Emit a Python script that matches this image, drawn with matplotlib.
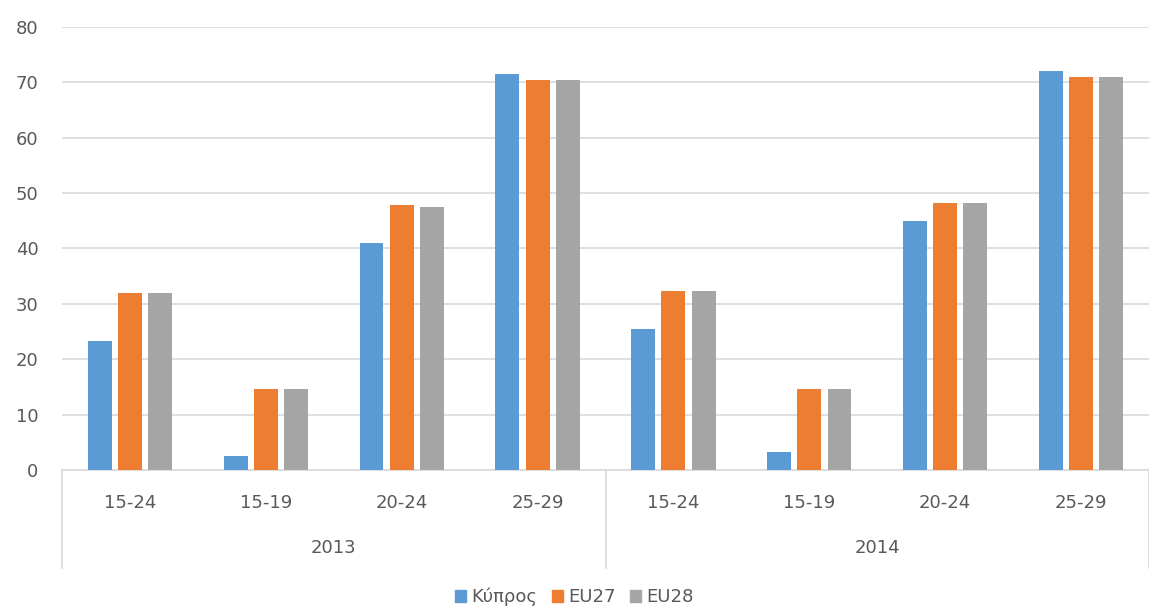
import numpy as np
import matplotlib.pyplot as plt
from matplotlib.patches import Patch

# Data
age_groups = ["15-24", "15-19", "20-24", "25-29"]
years = ["2013", "2014"]
series_names = ["Κύπρος", "EU27", "EU28"]
kypros = [23.2, 2.6, 41.0, 71.4, 25.4, 3.3, 44.9, 72.0]
eu27 = [31.9, 14.6, 47.9, 70.4, 32.3, 14.6, 48.2, 70.9]
eu28 = [31.9, 14.6, 47.5, 70.4, 32.3, 14.6, 48.2, 70.9]
colors = ["#5B9BD5", "#ED7D31", "#A5A5A5"]

text_col = "#595959"
grid_col = "#D9D9D9"
fs = 13

fig = plt.figure(figsize=(11.49, 6.08), dpi=100)
ax = fig.add_axes([62 / 1149, 1 - 470 / 608, 1 - 62 / 1149, (470 - 26.7) / 608])

x = np.arange(len(kypros))
width = 0.176
step = 0.222
for i, (vals, c) in enumerate(zip([kypros, eu27, eu28], colors)):
    ax.bar(x + (i - 1) * step, vals, width, color=c, zorder=3)

ax.set_xlim(-0.5, len(kypros) - 0.5)
ax.set_ylim(0, 80)
ax.set_yticks(range(0, 81, 10))
ax.yaxis.grid(True, color=grid_col, linewidth=1.2, zorder=0)
ax.tick_params(axis="y", length=0, labelsize=fs, labelcolor=text_col, pad=17)
ax.set_xticks([])
for s in ["top", "right", "left"]:
    ax.spines[s].set_visible(False)
ax.spines["bottom"].set_color(grid_col)
ax.spines["bottom"].set_linewidth(1.2)

# multi-level category axis
trans = ax.get_xaxis_transform()
labels = age_groups * len(years)
for xi, lab in zip(x, labels):
    ax.text(xi, -0.075, lab, transform=trans, ha="center", va="center",
            fontsize=fs, color=text_col)
for j, yr in enumerate(years):
    ax.text(j * 4 + 1.5, -0.177, yr, transform=trans, ha="center", va="center",
            fontsize=fs, color=text_col)
for sep in [-0.5, 3.5, 7.5]:
    ax.plot([sep, sep], [0, -0.222], transform=trans, color=grid_col,
            linewidth=1.2, clip_on=False)

handles = [Patch(color=c) for c in colors]
fig.legend(handles, series_names, loc="center", bbox_to_anchor=(0.5, 1 - 597 / 608),
           ncol=3, frameon=False, fontsize=fs, labelcolor=text_col,
           handlelength=0.6, handleheight=0.6, handletextpad=0.3, columnspacing=0.8)

fig.savefig("out.png", dpi=100)
